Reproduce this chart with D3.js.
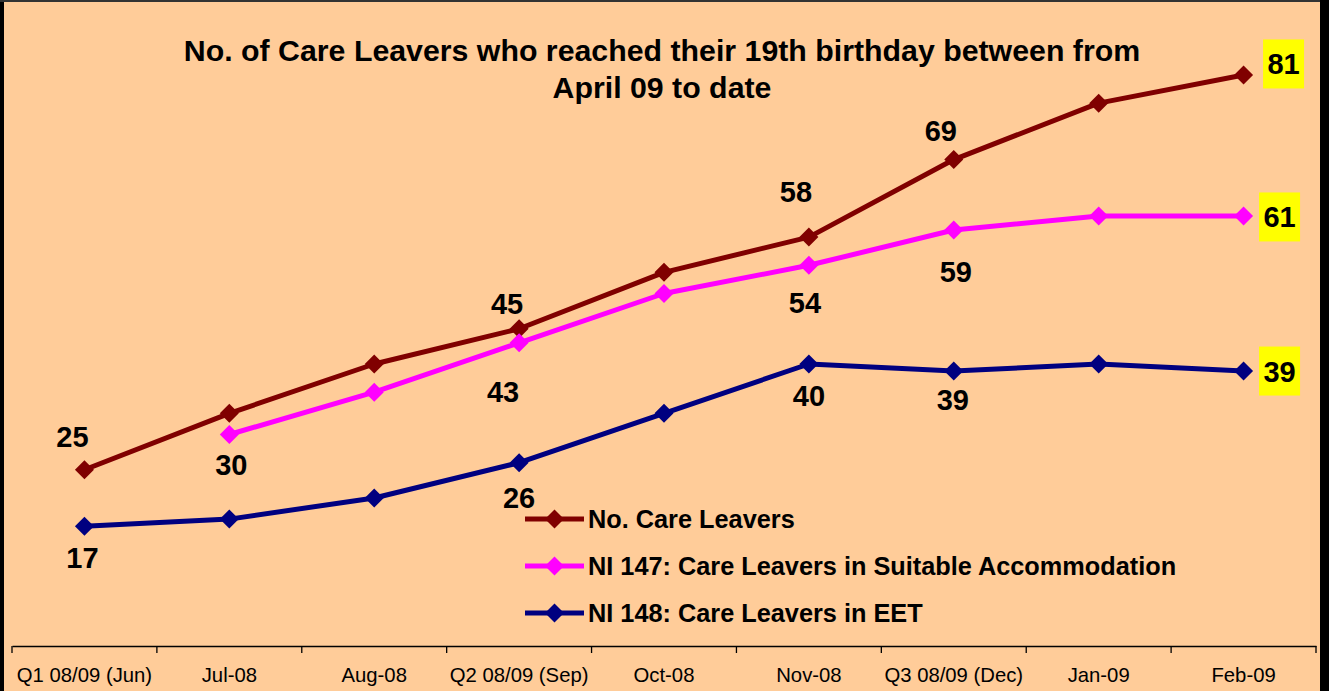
<!DOCTYPE html>
<html>
<head>
<meta charset="utf-8">
<script src="https://cdn.jsdelivr.net/npm/d3@7"></script>
<style>
  html, body { margin: 0; padding: 0; background: #ffffff; }
  svg { display: block; font-family: Arial, "Liberation Sans", sans-serif; }
</style>
</head>
<body>
<svg id="chart" width="1329" height="691"></svg>
<script>
// ---- data ----
const categories = ["Q1 08/09 (Jun)", "Jul-08", "Aug-08", "Q2 08/09 (Sep)", "Oct-08", "Nov-08", "Q3 08/09 (Dec)", "Jan-09", "Feb-09"];
const careLeavers   = [25, 33, 40, 45, 53, 58, 69, 77, 81];
const ni147Suitable = [null, 30, 36, 43, 50, 54, 59, 61, 61];
const ni148EET      = [17, 18, 21, 26, 33, 40, 39, 40, 39];
const seriesNames = ["No. Care Leavers", "NI 147: Care Leavers in Suitable Accommodation", "NI 148: Care Leavers in EET"];
const titleLines = ["No. of Care Leavers who reached their 19th birthday between from", "April 09 to date"];
const yDomain = [0, 90];

// ---- layout / style ----
const colors = ["#800000", "#FF00FF", "#000080"];
const seriesValues = [careLeavers, ni147Suitable, ni148EET];
// label placement: [seriesIndex, pointIndex, dx, dy, highlighted]
const labelPlacement = [
  [0, 0, -12, -33, false], [0, 3, -12, -25, false], [0, 5, -13, -46, false], [0, 6, -13, -29, false], [0, 8, 40, -11, true],
  [1, 1, 2, 30, false], [1, 3, -16, 49, false], [1, 5, -4, 37, false], [1, 6, 2, 41, false], [1, 8, 36, 1, true],
  [2, 0, -2, 31, false], [2, 3, 0, 35, false], [2, 5, 0, 32, false], [2, 6, -1, 28, false], [2, 8, 36, 0, true]
];

const svg = d3.select("#chart");
const W = 1329, H = 691;

// background + frame
svg.append("rect").attr("x", 0).attr("y", 0).attr("width", W).attr("height", H).attr("fill", "#000000");
svg.append("rect").attr("x", 4).attr("y", 2).attr("width", 1316).attr("height", H - 2).attr("fill", "#FFCC99");
svg.append("rect").attr("x", 0).attr("y", 0).attr("width", 1320).attr("height", 2).attr("fill", "#333333");

const x = d3.scaleBand().domain(categories).range([12, 1316]).padding(0);
const y = d3.scaleLinear().domain(yDomain).range([646, 11.5]);
const cx = c => x(c) + x.bandwidth() / 2;

// x axis
const axisG = svg.append("g").attr("transform", "translate(0,646)")
  .call(d3.axisBottom(x).tickSize(0).tickPadding(22).tickSizeOuter(0));
axisG.select(".domain").attr("stroke", "#000").attr("stroke-width", 1.3);
axisG.selectAll("text").attr("font-size", 20.3).attr("fill", "#000")
  .attr("font-family", "Arial, 'Liberation Sans', sans-serif");
// tick marks between categories (Excel style)
const boundaries = categories.map(c => x(c)).concat([x(categories[categories.length - 1]) + x.bandwidth()]);
axisG.selectAll("line.bt").data(boundaries).enter().append("line")
  .attr("class", "bt").attr("x1", d => d).attr("x2", d => d).attr("y1", 0).attr("y2", 7)
  .attr("stroke", "#000").attr("stroke-width", 1.3);

// title
svg.append("text").attr("x", 662).attr("y", 0).attr("text-anchor", "middle")
  .attr("font-size", 30.3).attr("font-weight", "bold").attr("fill", "#000")
  .selectAll("tspan").data(titleLines).enter().append("tspan")
  .attr("x", 662).attr("y", (d, i) => 61 + i * 37).text(d => d);

const diamond = h => `M0,${-h}L${h},0L0,${h}L${-h},0Z`;

// lines
seriesValues.forEach((vals, si) => {
  const pts = vals.map((v, i) => ({ c: categories[i], v })).filter(d => d.v !== null);
  const line = d3.line().x(d => cx(d.c)).y(d => y(d.v));
  svg.append("path").datum(pts).attr("d", line).attr("fill", "none")
    .attr("stroke", colors[si]).attr("stroke-width", 5).attr("stroke-linejoin", "round");
  svg.append("g").selectAll("path").data(pts).enter().append("path")
    .attr("d", diamond(9.5)).attr("fill", colors[si])
    .attr("transform", d => `translate(${cx(d.c)},${y(d.v)})`);
});

// data labels
labelPlacement.forEach(([si, pi, dx, dy, hl]) => {
  const v = seriesValues[si][pi];
  const px = cx(categories[pi]) + dx, py = y(v) + dy;
  const g = svg.append("g").attr("transform", `translate(${px},${py})`);
  if (hl) {
    g.append("rect").attr("x", -20.5).attr("y", -24.5).attr("width", 41).attr("height", 49).attr("fill", "#FFFF00");
  }
  g.append("text").attr("text-anchor", "middle").attr("dy", "0.36em")
    .attr("font-size", 29).attr("font-weight", "bold").attr("fill", "#000").text(v);
});

// legend
const legend = svg.append("g");
seriesNames.forEach((name, i) => {
  const ly = 519 + i * 47;
  legend.append("line").attr("x1", 525).attr("x2", 584).attr("y1", ly).attr("y2", ly)
    .attr("stroke", colors[i]).attr("stroke-width", 5);
  legend.append("path").attr("d", diamond(9.5)).attr("fill", colors[i])
    .attr("transform", `translate(554.5,${ly})`);
  legend.append("text").attr("x", 588).attr("y", ly).attr("dy", "0.36em")
    .attr("font-size", 25.3).attr("font-weight", "bold").attr("fill", "#000").text(name);
});
</script>
</body>
</html>
